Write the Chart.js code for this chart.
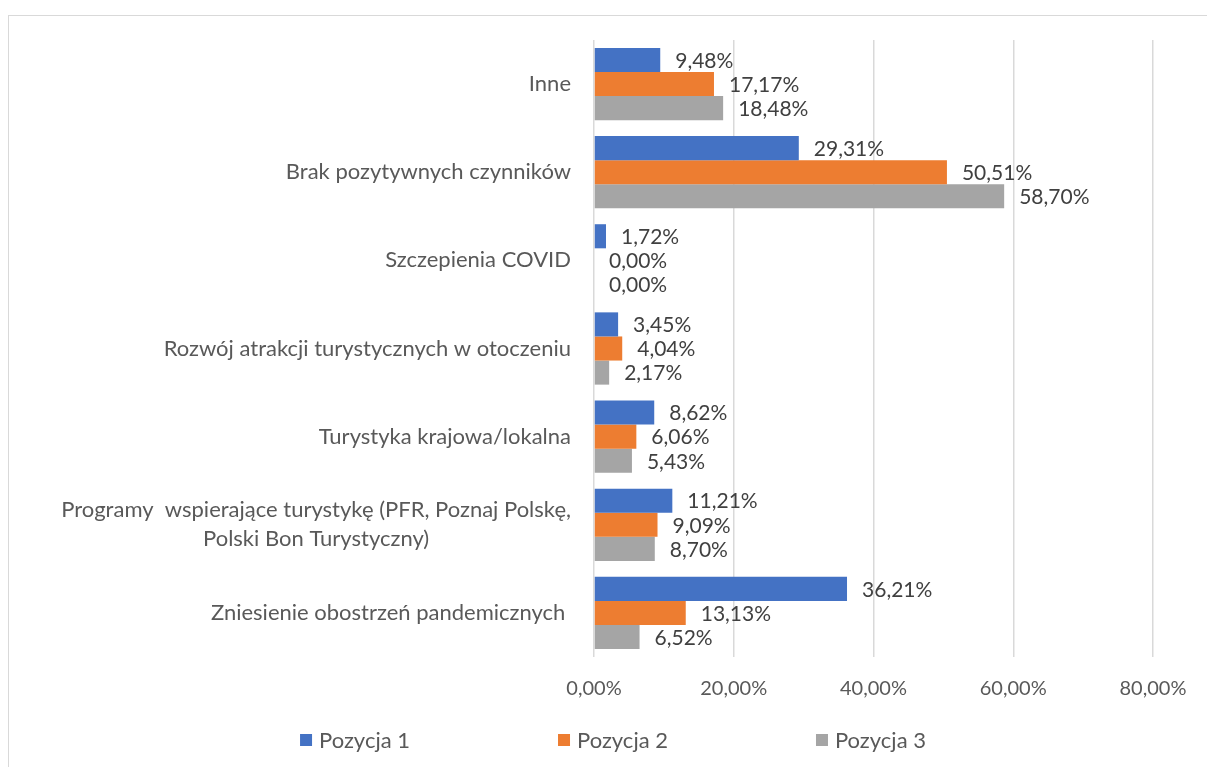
<!DOCTYPE html>
<html>
<head>
<meta charset="utf-8">
<script src="https://cdn.jsdelivr.net/npm/chart.js@4.4.0/dist/chart.umd.min.js"></script>
<style>
html, body { margin: 0; padding: 0; background: #fff; overflow: hidden; }
#frame { position: absolute; left: 8px; top: 15px; width: 1240px; height: 800px; border: 1px solid #d9d9d9; }
#wrap { position: absolute; left: 0; top: 0; width: 1207px; height: 767px; }
</style>
</head>
<body>
<div id="frame"></div>
<div id="wrap"><canvas id="myChart"></canvas></div>
<script>
let categories = [
    "Inne",
    "Brak pozytywnych czynników",
    "Szczepienia COVID",
    "Rozwój atrakcji turystycznych w otoczeniu",
    "Turystyka krajowa/lokalna",
    ["Programy  wspierające turystykę (PFR, Poznaj Polskę,", "Polski Bon Turystyczny)"],
    "Zniesienie obostrzeń pandemicznych "
];
let pozycja1 = [9.48, 29.31, 1.72, 3.45, 8.62, 11.21, 36.21];
let pozycja2 = [17.17, 50.51, 0.00, 4.04, 6.06, 9.09, 13.13];
let pozycja3 = [18.48, 58.70, 0.00, 2.17, 5.43, 8.70, 6.52];
let seriesNames = ["Pozycja 1", "Pozycja 2", "Pozycja 3"];
let seriesColors = ["#4472C4", "#ED7D31", "#A5A5A5"];
let xTicks = [0, 20, 40, 60, 80];

const FONT_FAMILY = "Lato";

function fmt(v) {
    return v.toFixed(2).replace(".", ",") + "%";
}

// value labels, category labels and the legend are drawn by hand
const drawTexts = {
    id: "drawTexts",
    afterDatasetsDraw(chart) {
        const ctx = chart.ctx;
        const ys = chart.scales.y;
        ctx.save();
        ctx.textBaseline = "middle";

        ctx.font = "21px " + FONT_FAMILY;
        ctx.fillStyle = "#404040";
        ctx.textAlign = "left";
        chart.data.datasets.forEach((ds, di) => {
            chart.getDatasetMeta(di).data.forEach((bar, i) => {
                ctx.fillText(fmt(ds.data[i]), bar.x + 15, bar.y + 1);
            });
        });

        ctx.font = "22px " + FONT_FAMILY;
        ctx.fillStyle = "#595959";
        ctx.textAlign = "center";
        const right = chart.chartArea.left - 23;
        categories.forEach((c, i) => {
            const lines = Array.isArray(c) ? c : [c];
            const y = ys.getPixelForValue(i);
            const widest = Math.max(...lines.map(l => ctx.measureText(l).width));
            lines.forEach((l, j) => {
                ctx.fillText(l, right - widest / 2, y + (j - (lines.length - 1) / 2) * 29);
            });
        });

        // legend
        const box = 12, gap = 7, pad = 148;
        const widths = seriesNames.map(n => box + gap + ctx.measureText(n).width);
        const total = widths.reduce((a, b) => a + b, 0) + pad * (widths.length - 1);
        let x = 613 - total / 2;
        const ly = 740;
        ctx.textAlign = "left";
        seriesNames.forEach((n, i) => {
            ctx.fillStyle = seriesColors[i];
            ctx.fillRect(x, ly - box / 2, box, box);
            ctx.fillStyle = "#595959";
            ctx.fillText(n, x + box + gap, ly + 1);
            x += widths[i] + pad;
        });
        ctx.restore();
    }
};

let ctx = document.querySelector("#myChart").getContext("2d");
let myChart = new Chart(ctx, {
    type: "bar",
    data: {
        labels: categories,
        datasets: [
            { label: seriesNames[0], data: pozycja1, backgroundColor: seriesColors[0] },
            { label: seriesNames[1], data: pozycja2, backgroundColor: seriesColors[1] },
            { label: seriesNames[2], data: pozycja3, backgroundColor: seriesColors[2] }
        ]
    },
    options: {
        indexAxis: "y",
        responsive: true,
        maintainAspectRatio: false,
        animation: false,
        barPercentage: 1,
        categoryPercentage: 0.82,
        layout: { padding: { left: 0, right: 54, top: 40, bottom: 46 } },
        plugins: {
            legend: { display: false },
            tooltip: { enabled: false }
        },
        scales: {
            x: {
                min: xTicks[0],
                max: xTicks[xTicks.length - 1],
                afterBuildTicks: (scale) => { scale.ticks = xTicks.map(v => ({ value: v })); },
                grid: { color: "#d9d9d9", lineWidth: 1.5, drawTicks: false },
                border: { display: false },
                ticks: {
                    padding: 20,
                    color: "#595959",
                    font: { family: FONT_FAMILY, size: 20 },
                    callback: (v) => fmt(v)
                }
            },
            y: {
                grid: { display: false },
                border: { display: false },
                ticks: { display: false },
                afterFit: (scale) => { scale.width = 594; }
            }
        }
    },
    plugins: [drawTexts]
});
</script>
</body>
</html>
